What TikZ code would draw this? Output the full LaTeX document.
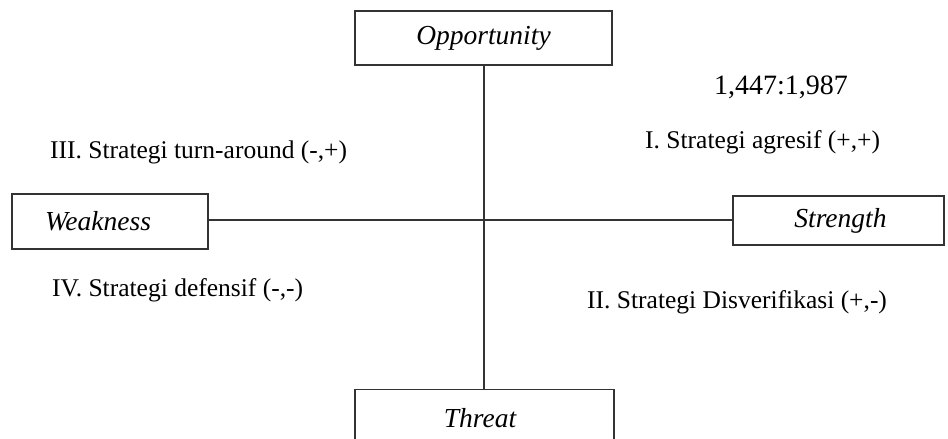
\documentclass[tikz,border=0pt]{standalone}
\usepackage{fontspec}
\setmainfont{Liberation Serif}
\begin{document}
\begin{tikzpicture}[x=1pt,y=-1pt,
  box/.style={draw=black!80,line width=1.3pt,inner sep=0pt,font=\fontsize{27.5}{31}\selectfont\itshape},
  lbl/.style={inner sep=0pt,anchor=west,font=\fontsize{25.5}{29}\selectfont},
  axis/.style={draw=black!80,line width=1.3pt}]
\useasboundingbox (0,0) rectangle (948,439);
\fill[white] (0,0) rectangle (948,439);
\node[box,minimum width=257pt,minimum height=54pt] (opp) at (483.5,38) {Opportunity};
\node[box,minimum width=196pt,minimum height=55pt] (weak) at (110,221.5) {\hspace*{-24pt}Weakness};
\node[box,minimum width=211pt,minimum height=49pt] (str) at (838.5,220.5) {\hspace*{4pt}Strength};
\node[box,minimum width=259pt,minimum height=60pt,anchor=north] (thr) at (484.5,389) {};
\node[inner sep=0pt,font=\fontsize{27.5}{31}\selectfont\itshape] (thrtxt) at (480,418) {Threat};
\draw[axis] (opp.south -| 484,0) -- (thr.north -| 484,0);
\draw[axis] (weak.east |- 0,220) -- (str.west |- 0,220);
\node[inner sep=0pt,font=\fontsize{28}{31}\selectfont] (ratio) at (781,87) {1,447:1,987};
\node[lbl] (q1) at (645,142) {I. Strategi agresif (+,+)};
\node[lbl] (q3) at (50,152) {III. Strategi turn-around (-,+)};
\node[lbl] (q4) at (52,290) {IV. Strategi defensif (-,-)};
\node[lbl] (q2) at (587,302) {II. Strategi Disverifikasi (+,-)};
\end{tikzpicture}
\end{document}
